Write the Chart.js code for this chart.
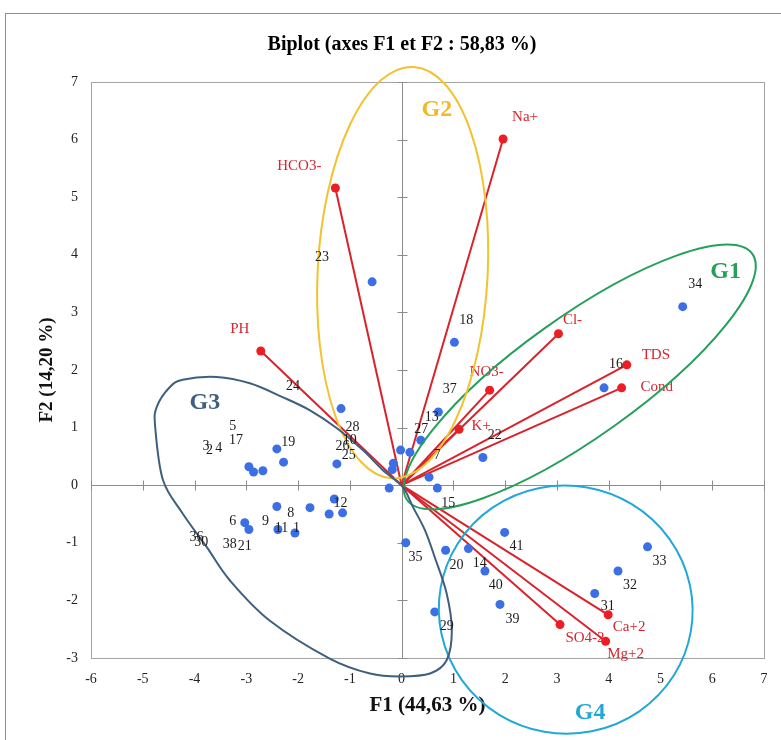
<!DOCTYPE html>
<html>
<head>
<meta charset="utf-8">
<title>Biplot F1 / F2</title>
<script src="https://cdn.jsdelivr.net/npm/chart.js@4.4.1/dist/chart.umd.min.js"></script>
<style>
  html, body { margin: 0; padding: 0; background: #fff; overflow: hidden; }
  #wrap { position: relative; width: 781px; height: 740px; }
  #frame { position: absolute; left: 5px; top: 13px; width: 820px; height: 820px;
           border: 1px solid #8f8f8f; box-sizing: border-box; pointer-events: none; }
  canvas { position: absolute; left: 0; top: 0; }
</style>
</head>
<body>
<div id="wrap">
  <canvas id="biplot" width="781" height="740"></canvas>
  <div id="frame"></div>
</div>
<script>
const serif = "'Liberation Serif', 'Times New Roman', serif";

const xTicks = [-6, -5, -4, -3, -2, -1, 0, 1, 2, 3, 4, 5, 6, 7];
const yTicks = [-3, -2, -1, 0, 1, 2, 3, 4, 5, 6, 7];

// variables (red vectors)
const varNames = ['Na+', 'HCO3-', 'PH', 'Cl-', 'TDS', 'Cond', 'NO3-', 'K+', 'Ca+2', 'Mg+2', 'SO4-2'];
const varF1 = [1.96, -1.28, -2.72, 3.03, 4.35, 4.25, 1.70, 1.11, 3.99, 3.94, 3.06];
const varF2 = [6.01, 5.16, 2.33, 2.63, 2.09, 1.69, 1.65, 0.97, -2.25, -2.71, -2.42];

// observations (blue markers)
const obsF1 = [-0.57, 1.02, 5.43, 3.91, 0.71, 0.37, 0.16, -0.02, 1.57, 0.53,
               0.69, -0.24, -0.16, -0.18, -1.17, -2.41, -2.28, -2.95, -2.86, -2.68,
               -1.25, -1.30, -2.41, -1.77, -1.40, -1.14, -3.03, -2.95, -2.39, -2.06,
               0.08, 0.85, 1.29, 1.99, 1.61, 1.90, 0.64, 4.75, 4.18, 3.73];
const obsF2 = [3.53, 2.48, 3.10, 1.69, 1.27, 0.78, 0.57, 0.61, 0.48, 0.14,
               -0.05, -0.05, 0.38, 0.27, 1.33, 0.63, 0.40, 0.32, 0.23, 0.25,
               0.37, -0.24, -0.37, -0.39, -0.50, -0.48, -0.65, -0.77, -0.77, -0.83,
               -1.00, -1.13, -1.10, -0.82, -1.49, -2.07, -2.20, -1.07, -1.49, -1.88];

// observation numbers and where they are printed
const obsNums = ['1', '2', '3', '4', '5', '6', '7', '8', '9', '10',
                 '11', '12', '13', '14', '15', '16', '17', '18', '19', '20',
                 '21', '22', '23', '24', '25', '26', '27', '28', '29', '30',
                 '31', '32', '33', '34', '35', '36', '37', '38', '39', '40', '41'];
const numF1 = [-2.03, -3.71, -3.78, -3.53, -3.26, -3.26, 0.69, -2.14, -2.63, -1.00,
               -2.32, -1.18, 0.58, 1.51, 0.90, 4.14, -3.20, 1.25, -2.19, 1.06,
               -3.03, 1.80, -1.54, -2.10, -1.02, -1.14, 0.38, -0.95, 0.87, -3.87,
               3.98, 4.41, 4.98, 5.67, 0.27, -3.96, 0.93, -3.32, 2.14, 1.82, 2.22];
const numF2 = [-0.75, 0.61, 0.67, 0.64, 1.03, -0.62, 0.52, -0.49, -0.62, 0.78,
               -0.75, -0.31, 1.18, -1.35, -0.31, 2.09, 0.78, 2.86, 0.75, -1.39,
               -1.06, 0.87, 3.95, 1.71, 0.52, 0.68, 0.97, 1.01, -2.45, -0.99,
               -2.10, -1.73, -1.33, 3.48, -1.26, -0.90, 1.66, -1.03, -2.32, -1.74, -1.06];

// where each variable name sits relative to its arrow tip (px)
const varTagOffset = {
  'Na+': [22, -22], 'HCO3-': [-36, -22], 'PH': [-21, -22], 'Cl-': [14, -14],
  'TDS': [29, -10], 'Cond': [35, -1], 'NO3-': [-3, -18], 'K+': [22, -3],
  'Ca+2': [21, 12], 'Mg+2': [20, 13], 'SO4-2': [25, 13]
};

// hand drawn groups
const groups = [
  { name: 'G1', color: '#24a05a', center: [3.44, 1.88], rx: 212, ry: 60, angle: -35.5, tag: [6.26, 3.70] },
  { name: 'G2', color: '#f2c230', tagColor: '#f0b92a', center: [0.02, 3.69], rx: 85, ry: 206, angle: 3, tag: [0.68, 6.52] },
  { name: 'G4', color: '#22a8d8', center: [3.17, -2.16], rx: 127, ry: 124, angle: 10, tag: [3.64, -3.95] },
  { name: 'G3', color: '#3f5f7e', tag: [-3.80, 1.43],
    outline: [[-4.76, 1.01], [-4.73, 1.36], [-4.48, 1.70], [-4.23, 1.83], [-3.57, 1.88], [-2.93, 1.77],
              [-2.30, 1.53], [-1.77, 1.30], [-1.25, 0.99], [-0.75, 0.61], [-0.36, 0.26], [0.02, -0.03],
              [0.22, -0.38], [0.45, -0.78], [0.64, -1.25], [0.87, -1.88], [0.97, -2.52], [0.87, -3.04],
              [0.55, -3.27], [-0.02, -3.32], [-0.61, -3.27], [-1.39, -3.01], [-2.55, -2.35], [-3.32, -1.65],
              [-3.76, -1.08], [-4.23, -0.49], [-4.61, 0.09]] }
];

const vectorSets = varNames.map((name, i) => ({
  label: name,
  data: [{ x: 0, y: 0 }, { x: varF1[i], y: varF2[i] }],
  showLine: true,
  borderColor: '#d9232b',
  borderWidth: 2,
  pointRadius: [0, 4.5],
  pointBackgroundColor: '#ee1d23',
  pointBorderWidth: 0,
  order: 2
}));

const obsSet = {
  label: 'Observations',
  data: obsF1.map((x, i) => ({ x: x, y: obsF2[i] })),
  pointRadius: 4.5,
  pointBackgroundColor: '#3c6ee6',
  pointBorderWidth: 0,
  order: 1
};

const numSet = {
  label: 'numbers',
  data: numF1.map((x, i) => ({ x: x, y: numF2[i] })),
  pointRadius: 0,
  pointHoverRadius: 0,
  order: 3
};

function drawSmoothClosed(ctx, pts) {
  const n = pts.length;
  ctx.beginPath();
  ctx.moveTo(pts[0][0], pts[0][1]);
  for (let i = 0; i < n; i++) {
    const p0 = pts[(i - 1 + n) % n], p1 = pts[i], p2 = pts[(i + 1) % n], p3 = pts[(i + 2) % n];
    ctx.bezierCurveTo(p1[0] + (p2[0] - p0[0]) / 6, p1[1] + (p2[1] - p0[1]) / 6,
                      p2[0] - (p3[0] - p1[0]) / 6, p2[1] - (p3[1] - p1[1]) / 6,
                      p2[0], p2[1]);
  }
  ctx.closePath();
  ctx.stroke();
}

const biplotDecor = {
  id: 'biplotDecor',
  beforeDatasetsDraw(chart) {
    const { ctx, chartArea: a, scales: { x, y } } = chart;
    ctx.save();
    ctx.strokeStyle = '#a3a3a3';
    ctx.lineWidth = 1;
    ctx.strokeRect(Math.round(a.left) + 0.5, Math.round(a.top) + 0.5,
                   Math.round(a.right - a.left), Math.round(a.bottom - a.top));

    // zero axes with crossing tick marks
    const x0 = Math.round(x.getPixelForValue(0)) + 0.5;
    const y0 = Math.round(y.getPixelForValue(0)) + 0.5;
    ctx.strokeStyle = '#8c8c8c';
    ctx.beginPath();
    ctx.moveTo(x0, a.top); ctx.lineTo(x0, a.bottom);
    ctx.moveTo(a.left, y0); ctx.lineTo(a.right, y0);
    xTicks.forEach(v => {
      const px = Math.round(x.getPixelForValue(v)) + 0.5;
      ctx.moveTo(px, y0 - 5); ctx.lineTo(px, y0 + 5);
    });
    yTicks.forEach(v => {
      const py = Math.round(y.getPixelForValue(v)) + 0.5;
      ctx.moveTo(x0 - 5, py); ctx.lineTo(x0 + 5, py);
    });
    ctx.stroke();

    // variable names sit under the arrows and dots
    ctx.textAlign = 'center';
    ctx.textBaseline = 'middle';
    ctx.font = '15px ' + serif;
    ctx.fillStyle = '#d8252f';
    chart.data.datasets.forEach((ds, i) => {
      const off = varTagOffset[ds.label];
      if (!off) return;
      const tip = chart.getDatasetMeta(i).data[1];
      ctx.fillText(ds.label, tip.x + off[0], tip.y + off[1]);
    });
    ctx.restore();
  },
  afterDatasetsDraw(chart) {
    const { ctx, scales: { x, y } } = chart;
    ctx.save();

    // group outlines
    ctx.lineWidth = 2;
    groups.forEach(g => {
      ctx.strokeStyle = g.color;
      if (g.outline) {
        drawSmoothClosed(ctx, g.outline.map(p => [x.getPixelForValue(p[0]), y.getPixelForValue(p[1])]));
      } else {
        ctx.beginPath();
        ctx.ellipse(x.getPixelForValue(g.center[0]), y.getPixelForValue(g.center[1]),
                    g.rx, g.ry, g.angle * Math.PI / 180, 0, Math.PI * 2);
        ctx.stroke();
      }
    });

    ctx.textAlign = 'center';
    ctx.textBaseline = 'middle';

    // group names
    ctx.font = 'bold 24px ' + serif;
    groups.forEach(g => {
      ctx.fillStyle = g.tagColor || g.color;
      ctx.fillText(g.name, x.getPixelForValue(g.tag[0]), y.getPixelForValue(g.tag[1]));
    });

    // observation numbers
    ctx.font = '14px ' + serif;
    ctx.fillStyle = '#1c1c1c';
    const numIndex = chart.data.datasets.indexOf(numSet);
    chart.getDatasetMeta(numIndex).data.forEach((pt, j) => {
      ctx.fillText(obsNums[j], pt.x, pt.y);
    });

    // chart title
    ctx.font = 'bold 20px ' + serif;
    ctx.fillStyle = '#000';
    ctx.fillText('Biplot (axes F1 et F2 : 58,83 %)', 402, 45);
    ctx.restore();
  }
};

new Chart(document.getElementById('biplot'), {
  type: 'scatter',
  data: { datasets: [...vectorSets, obsSet, numSet] },
  options: {
    responsive: false,
    animation: false,
    events: [],
    layout: { padding: { top: 82, right: 17, bottom: 0, left: 0 } },
    plugins: {
      legend: { display: false },
      tooltip: { enabled: false }
    },
    scales: {
      x: {
        type: 'linear', min: -6, max: 7,
        afterBuildTicks: s => { s.ticks = xTicks.map(v => ({ value: v })); },
        afterFit: s => { s.height = 82; },
        grid: { display: false },
        border: { display: false },
        ticks: { color: '#222', font: { family: serif, size: 14 }, padding: 5, maxRotation: 0, autoSkip: false },
        title: { display: true, text: 'F1 (44,63 %)', color: '#111',
                 font: { family: serif, size: 21, weight: 'bold' }, padding: { top: 0, bottom: 22 } }
      },
      y: {
        type: 'linear', min: -3, max: 7,
        afterBuildTicks: s => { s.ticks = yTicks.map(v => ({ value: v })); },
        afterFit: s => { s.width = 91; },
        grid: { display: false },
        border: { display: false },
        ticks: { color: '#222', font: { family: serif, size: 14 }, padding: 5, autoSkip: false },
        title: { display: true, text: 'F2 (14,20 %)', color: '#111',
                 font: { family: serif, size: 19, weight: 'bold' }, padding: { top: 36, bottom: 0 } }
      }
    }
  },
  plugins: [biplotDecor]
});
</script>
</body>
</html>
